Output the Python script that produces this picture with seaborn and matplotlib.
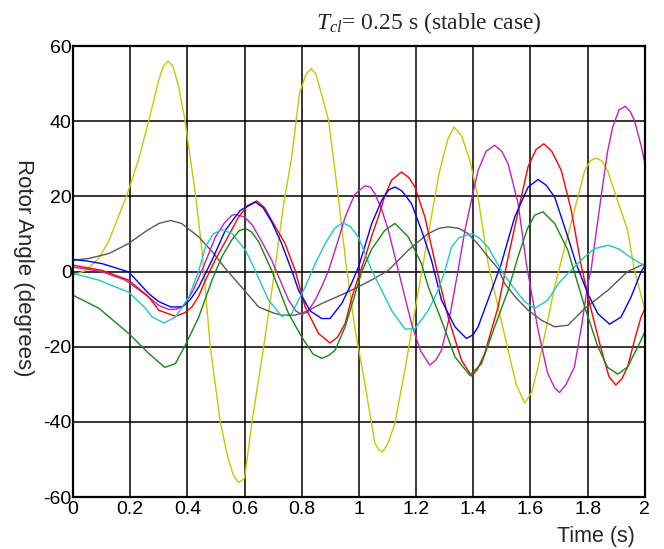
"""Rotor angle swing curves, Tcl = 0.25 s stable case."""

import matplotlib

matplotlib.use("Agg")
import matplotlib.pyplot as plt
import pandas as pd
import seaborn as sns

# values (time in s, angle in degrees)
yellow_t = [0, 0.044, 0.09, 0.126, 0.19, 0.23, 0.265, 0.30, 0.315, 0.333, 0.35, 0.37, 0.39, 0.428,
            0.451, 0.48, 0.515, 0.54, 0.56, 0.579, 0.60, 0.626, 0.667, 0.705, 0.735, 0.765, 0.792,
            0.815, 0.833, 0.85, 0.87, 0.894, 0.928, 0.955, 0.987, 1.021, 1.056, 1.07, 1.082, 1.10,
            1.126, 1.161, 1.19, 1.22, 1.25, 1.28, 1.31, 1.333, 1.36, 1.388, 1.417, 1.452, 1.487,
            1.522, 1.55, 1.58, 1.605, 1.627, 1.655, 1.685, 1.715, 1.743, 1.79, 1.81, 1.83, 1.85,
            1.87, 1.90, 1.94, 1.964, 2.0]
yellow_v = [-1, 0.3, 3.5, 8.3, 20.7, 30, 40.2, 51, 54.5, 56, 54.5, 49, 41, 20.7,
            5.7, -20, -40, -49, -54, -56.2, -55, -40, -20, 0, 17, 30.5, 47.3,
            52.5, 54, 52.5, 47, 40.2, 19.8, 2, -15.6, -29.8, -45.7, -47.5, -48, -46,
            -40.4, -26.2, -13, 0, 13, 26, 35, 38.5, 36, 29.6, 19.8, 2.1, -9.4,
            -20.9, -30, -35, -32, -25.4, -15, -4, 5, 13, 26.9, 29.5, 30.2, 29.5,
            26.9, 20, 11, 0.3, -10]

gray_t = [0, 0.056, 0.126, 0.195, 0.26, 0.30, 0.341, 0.38, 0.44, 0.49, 0.533, 0.579, 0.649, 0.70,
          0.73, 0.777, 0.82, 0.87, 0.93, 0.987, 1.05, 1.103, 1.173, 1.24, 1.28, 1.312, 1.35, 1.382,
          1.42, 1.452, 1.487, 1.51, 1.55, 1.592, 1.64, 1.685, 1.731, 1.79, 1.871, 1.94, 2.0]
gray_v = [3, 3.5, 4.8, 7.5, 11, 12.8, 13.6, 12.8, 9.2, 5, 0.8, -3.2, -9.4, -11,
          -11.6, -11.6, -10.5, -8.5, -6.5, -4.5, -2, 0.3, 5.7, 10, 11.5, 11.9, 11.5, 10.1,
          7, 3.9, 0.8, -3.2, -7, -10.3, -13, -14.7, -14.3, -9.8, -5, 0, 2.1]

magenta_t = [0, 0.1, 0.184, 0.26, 0.30, 0.335, 0.36, 0.39, 0.42, 0.451, 0.498, 0.53, 0.556, 0.57,
             0.60, 0.626, 0.66, 0.695, 0.72, 0.754, 0.78, 0.80, 0.82, 0.847, 0.87, 0.894, 0.92,
             0.952, 0.985, 1.021, 1.04, 1.056, 1.08, 1.103, 1.138, 1.16, 1.184, 1.215, 1.248, 1.27,
             1.289, 1.32, 1.347, 1.371, 1.395, 1.417, 1.445, 1.475, 1.50, 1.522, 1.557, 1.586,
             1.627, 1.66, 1.685, 1.702, 1.725, 1.754, 1.78, 1.801, 1.812, 1.847, 1.87, 1.888, 1.91,
             1.932, 1.95, 1.964, 1.987, 2.0]
magenta_v = [1.2, 0, -2.3, -6.5, -9, -10.1, -10, -9, -5, 0.3, 9.2, 13, 15, 15.2,
             14.5, 12.5, 8, 3, -1.5, -7.6, -10.5, -11.4, -10.8, -7.6, -4, 0.3, 6.5,
             14.5, 20.5, 22.8, 22.5, 20.7, 16.5, 11, 0.3, -6.5, -13.8, -21, -24.9, -23.5,
             -20.9, -11, 0.3, 11, 19.5, 26.9, 32, 33.6, 32, 28.7, 18.1, 2,
             -15.6, -27, -31, -32.2, -30, -25.4, -14, -3.2, 0.3, 19.8, 32, 38.5, 43,
             44, 42.5, 40.2, 33.6, 29]

red_t = [0, 0.102, 0.195, 0.265, 0.30, 0.358, 0.39, 0.416, 0.44, 0.463, 0.50, 0.533, 0.579, 0.61,
         0.643, 0.67, 0.695, 0.742, 0.777, 0.812, 0.859, 0.899, 0.925, 0.952, 0.975, 1.0, 1.021,
         1.045, 1.068, 1.09, 1.114, 1.149, 1.175, 1.196, 1.231, 1.25, 1.277, 1.312, 1.359, 1.394,
         1.415, 1.44, 1.487, 1.52, 1.557, 1.592, 1.62, 1.647, 1.675, 1.708, 1.743, 1.778, 1.812,
         1.847, 1.875, 1.899, 1.92, 1.94, 1.965, 1.987, 2.0]
red_v = [1.7, 0.3, -2.3, -6.8, -10.3, -11.9, -11, -9.4, -6.5, -2.3, 3.5, 8, 14.5, 17.5,
         18.8, 17, 13.6, 7.4, 0.3, -9.4, -16.5, -19, -17.5, -13.8, -7, -1, 3.5,
         9.5, 14.5, 20, 24.3, 26.5, 25, 22.5, 14.5, 8, -1, -12.1, -23.6, -27.8,
         -26, -21.8, -9.4, 3, 16, 28, 32.5, 34, 32, 26.9, 16.3, 1.5, -10,
         -20.5, -28, -30.2, -28.5, -25.4, -18, -12.1, -10]

blue_t = [0, 0.05, 0.102, 0.195, 0.265, 0.30, 0.341, 0.38, 0.41, 0.44, 0.486, 0.533, 0.585, 0.638,
          0.665, 0.695, 0.73, 0.765, 0.789, 0.83, 0.87, 0.899, 0.94, 0.975, 1.0, 1.045, 1.08,
          1.105, 1.126, 1.15, 1.184, 1.219, 1.254, 1.289, 1.336, 1.376, 1.40, 1.417, 1.464, 1.498,
          1.545, 1.592, 1.627, 1.655, 1.685, 1.731, 1.76, 1.801, 1.836, 1.877, 1.917, 1.952,
          1.987, 2.0]
blue_v = [3.2, 2.8, 2.1, -0.1, -5.9, -8, -9.4, -9.4, -7.5, -4.1, 3, 11, 16.3, 18.5,
          17, 13.2, 7.4, 0.3, -5, -10.5, -12.5, -12.5, -8.5, -3, 1.5, 12.8, 19,
          21.8, 22.5, 21.5, 18.1, 11, 3, -7.6, -14.7, -17.8, -16.8, -14.7, -5, 2.1,
          14.5, 22.5, 24.5, 23, 19.8, 9.2, 2.1, -5.9, -11.2, -14, -12.1, -6.8,
          -0.1, 1.5]

cyan_t = [0, 0.091, 0.195, 0.25, 0.277, 0.318, 0.358, 0.405, 0.44, 0.463, 0.49, 0.521, 0.556, 0.603,
          0.626, 0.684, 0.73, 0.765, 0.812, 0.847, 0.882, 0.915, 0.943, 0.97, 0.998, 1.045, 1.068,
          1.114, 1.161, 1.196, 1.243, 1.277, 1.30, 1.324, 1.35, 1.394, 1.42, 1.452, 1.498, 1.533,
          1.58, 1.615, 1.661, 1.70, 1.731, 1.79, 1.824, 1.871, 1.91, 1.94, 1.987, 2.0]
cyan_v = [-0.5, -2.3, -5.5, -9.5, -12.1, -13.7, -12.1, -6.8, 0.3, 6.5, 10, 11.2, 10.1, 5.7,
          2.1, -7.6, -11.9, -11.2, -4.1, 2.1, 7.4, 11.5, 13, 12, 9.2, 0.3, -3.2,
          -10.3, -15.3, -15.2, -10.3, -5, 0, 6.5, 9, 10.1, 9, 6.5, 0.3, -3.5,
          -8, -9.8, -7.6, -3, -0.5, 3.9, 6.1, 7, 6, 4.3, 2.1, 1.5]

green_t = [0, 0.091, 0.195, 0.265, 0.321, 0.358, 0.39, 0.44, 0.486, 0.521, 0.556, 0.58, 0.603, 0.625,
           0.649, 0.695, 0.754, 0.80, 0.84, 0.87, 0.895, 0.917, 0.952, 0.987, 1.01, 1.045, 1.091,
           1.126, 1.173, 1.219, 1.243, 1.289, 1.336, 1.388, 1.429, 1.475, 1.522, 1.557, 1.59,
           1.615, 1.644, 1.685, 1.731, 1.79, 1.836, 1.87, 1.906, 1.94, 1.987, 2.0]
green_v = [-6.3, -9.8, -16.5, -21.8, -25.5, -24.5, -20, -12.1, -2.3, 4, 8.5, 10.8, 11.5, 10.5,
           8, 0.3, -11.2, -17.4, -22, -23.1, -22.3, -20.9, -14.7, -5.9, 0, 6, 11,
           12.8, 9.2, 2.1, -4.1, -13, -22.7, -27.6, -24.5, -14.7, -5, 4, 11.5,
           15, 15.9, 12.8, 5.7, -9.4, -20, -25.5, -27.3, -25.4, -18.3, -16]

x_ticks = [0, 0.2, 0.4, 0.6, 0.8, 1, 1.2, 1.4, 1.6, 1.8, 2]
x_tick_labels = ["0", "0.2", "0.4", "0.6", "0.8", "1", "1.2", "1.4", "1.6", "1.8", "2"]
y_ticks = [-60, -40, -20, 0, 20, 40, 60]

series = [
    ("yellow", yellow_t, yellow_v, "#c8c800"),
    ("gray", gray_t, gray_v, "#5a5a5a"),
    ("magenta", magenta_t, magenta_v, "#c020c0"),
    ("red", red_t, red_v, "#ff0000"),
    ("blue", blue_t, blue_v, "#0000ff"),
    ("cyan", cyan_t, cyan_v, "#20c8c8"),
    ("green", green_t, green_v, "#128a12"),
]

sns.set_theme(style="white")
plt.rcParams["font.family"] = ["Liberation Sans", "DejaVu Sans"]
plt.rcParams["axes.unicode_minus"] = False
plt.rcParams["mathtext.fontset"] = "custom"
plt.rcParams["mathtext.it"] = "Liberation Serif:italic"
plt.rcParams["mathtext.rm"] = "Liberation Serif"

fig = plt.figure(figsize=(6.64, 5.49), dpi=100)
ax = fig.add_axes([0.110, 0.0947, 0.861, 0.8213])

for name, t, v, color in series:
    df = pd.DataFrame({"t": t, "v": v})
    sns.lineplot(data=df, x="t", y="v", ax=ax, color=color, linewidth=1.0,
                 sort=False, estimator=None)

ax.set_xlim(0, 2)
ax.set_ylim(-60, 60)
ax.set_xticks(x_ticks)
ax.set_xticklabels(x_tick_labels)
ax.set_yticks(y_ticks)
ax.set_xlabel("")
ax.set_ylabel("")
ax.grid(True, color="black", linewidth=1.1)
ax.set_axisbelow(True)
ax.tick_params(axis="both", length=0, labelsize=14, colors="black")
ax.tick_params(axis="x", pad=3)
ax.tick_params(axis="y", pad=1)
for spine in ax.spines.values():
    spine.set_color("black")
    spine.set_linewidth(1.6)

fig.text(0.646, 0.958, r"$T_{cl}$= 0.25 s (stable case)", ha="center", va="center",
         fontsize=17, family="Liberation Serif")
fig.text(0.897, 0.022, "Time (s)", ha="center", va="center", fontsize=15.5)
fig.text(0.035, 0.512, "Rotor Angle (degrees)", ha="center", va="center",
         rotation=-90, fontsize=16)

fig.savefig("out.png", dpi=100, facecolor="white")
plt.close(fig)
